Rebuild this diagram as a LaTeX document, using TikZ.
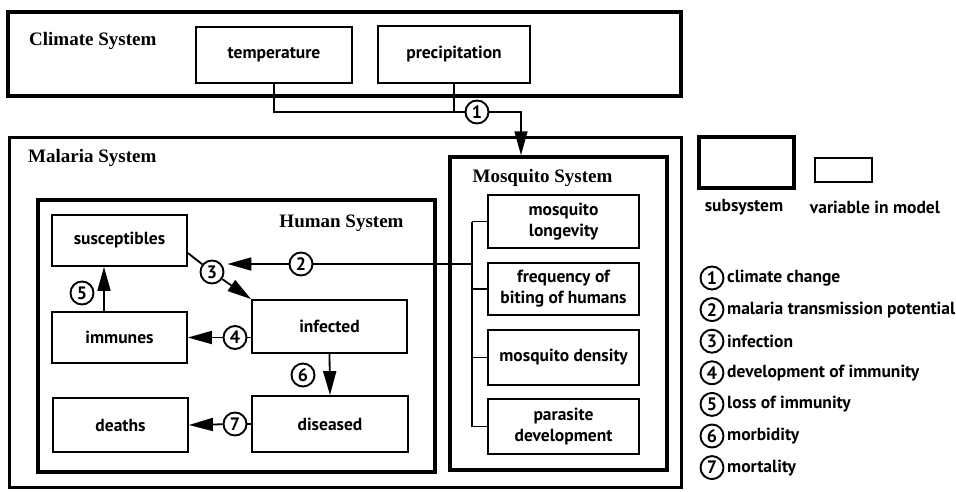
\documentclass[tikz,border=0pt]{standalone}
\usepackage{fontspec}
\setmainfont{PT Sans}
\newfontfamily\titlefont{Liberation Serif}
\usetikzlibrary{arrows.meta,calc}
\begin{document}
\begin{tikzpicture}[x=1pt,y=-1pt,
  sysbox/.style={draw, line width=3.5pt, inner sep=0pt},
  varbox/.style={draw, line width=1.8pt, inner sep=0pt, align=center,
    font=\fontsize{17.5}{21}\selectfont\bfseries},
  systitle/.style={inner sep=0pt, font=\fontsize{19}{21}\selectfont\titlefont\bfseries},
  num/.style={circle, draw, line width=1.9pt, fill=white, minimum size=23pt,
    inner sep=0pt, font=\fontsize{18}{20}\selectfont\bfseries},
  conn/.style={line width=1.8pt},
  arr/.style={conn, -{Triangle[length=24pt,width=13pt]}},
  legtext/.style={anchor=west, inner sep=0pt, font=\fontsize{17.5}{19}\selectfont\bfseries}
]
\useasboundingbox (0,0) rectangle (956,491);

% ---- climate system ----
\node[sysbox, minimum width=673pt, minimum height=84pt] (climate) at (344.5,54) {};
\node[systitle, anchor=west] (climatelbl) at (29,41) {Climate System};
\node[varbox, minimum width=156pt, minimum height=56pt] (temp) at (274,55) {temperature};
\node[varbox, minimum width=152pt, minimum height=57pt] (prec) at (454,54.5) {precipitation};

% ---- malaria system and its subsystems ----
\node[sysbox, line width=3pt, minimum width=672pt, minimum height=350pt] (malaria) at (345,312) {};
\node[systitle, anchor=west] (malarialbl) at (28,158) {Malaria System};

\node[sysbox, minimum width=217pt, minimum height=313pt] (mosq) at (558.5,313.5) {};
\node[systitle] (mosqlbl) at (542.5,178) {Mosquito System};

\node[sysbox, minimum width=397pt, minimum height=272pt] (human) at (236.5,336) {};
\node[systitle] (humanlbl) at (341.5,223) {Human System};

% mosquito variables
\node[varbox, minimum width=151pt, minimum height=53pt] (longev) at (563.5,221.5) {mosquito\\longevity};
\node[varbox, minimum width=151pt, minimum height=52pt] (freq) at (563.5,289) {frequency of\\biting of humans};
\node[varbox, minimum width=151pt, minimum height=55pt] (dens) at (563.5,357.5) {mosquito density};
\node[varbox, minimum width=151pt, minimum height=55pt] (paras) at (563.5,426.5) {parasite\\development};

% human variables
\node[varbox, minimum width=135pt, minimum height=51pt] (sus) at (119.5,240.5) {susceptibles};
\node[varbox, minimum width=135pt, minimum height=51pt] (imm) at (119.5,337.5) {immunes};
\node[varbox, minimum width=135pt, minimum height=54pt] (dead) at (120.5,425) {deaths};
\node[varbox, minimum width=155pt, minimum height=53pt] (inf) at (329.5,326.5) {infected};
\node[varbox, minimum width=156pt, minimum height=56pt] (dis) at (330,424) {diseased};

% ---- process markers ----
\node[num] (c1) at (477,112) {1};
\node[num] (c2) at (301,264) {2};
\node[num] (c3) at (212,272) {3};
\node[num] (c4) at (235,337.5) {4};
\node[num] (c5) at (82,293) {5};
\node[num] (c6) at (303,375) {6};
\node[num] (c7) at (235,424) {7};

% ---- 1: climate change ----
\coordinate (join) at (274,112);
\coordinate (bend1) at (521,112);
\draw[conn] (temp.south) -- (join) -- (c1);
\draw[conn] (prec.south) -- (prec.south |- c1);
\draw[arr] (c1) -- (bend1) -- (bend1 |- mosq.north);

% ---- 2: transmission potential ----
\coordinate (bus) at (472,221.5);
\coordinate (busend) at (472,426.5);
\coordinate (tap) at (472,264);
\draw[conn] (longev.west -| bus) -- (longev.west);
\draw[conn] (freq.west -| bus) -- (freq.west);
\draw[conn] (dens.west -| bus) -- (dens.west);
\draw[conn] (paras.west -| bus) -- (paras.west);
\draw[conn] (bus) -- (busend);
\draw[conn] (tap) -- (c2);
\draw[arr] (c2) -- ($(tap -| c3.east)+(3,0)$);

% ---- 3: infection ----
\draw[conn] ($(sus.east)+(0,12.5)$) -- (c3);
\draw[arr] (c3) -- (inf.north west);

% ---- 4: development of immunity ----
\draw[conn] (inf.west |- imm.east) -- (c4);
\draw[arr] (c4) -- (imm.east);

% ---- 5: loss of immunity ----
\draw[arr] (imm.north -| 104,0) -- (sus.south -| 104,0);

% ---- 6: morbidity ----
\draw[arr] (inf.south) -- (dis.north);

% ---- 7: mortality ----
\draw[conn] (dis.west) -- (c7);
\draw[arr] (c7) -- (dead.east);

% ---- legend ----
\node[sysbox, minimum width=95pt, minimum height=51pt] (legsys) at (746.5,162.5) {};
\node[draw, line width=1.8pt, minimum width=57pt, minimum height=24pt, inner sep=0pt] (legvar) at (843.5,170) {};
\node[legtext, anchor=center] (legsyslbl) at (744,207) {subsystem};
\node[legtext, anchor=center] (legvarlbl) at (875,207) {variable in model};

\foreach \n/\txt [count=\i from 0] in {1/climate change, 2/malaria transmission potential,
    3/infection, 4/development of immunity, 5/loss of immunity, 6/morbidity, 7/mortality}{
  \node[num] (key\n) at (712,{278+31.6*\i}) {\n};
  \node[legtext] (keytxt\n) at (727,{278+31.6*\i}) {\txt};
}
\end{tikzpicture}
\end{document}
